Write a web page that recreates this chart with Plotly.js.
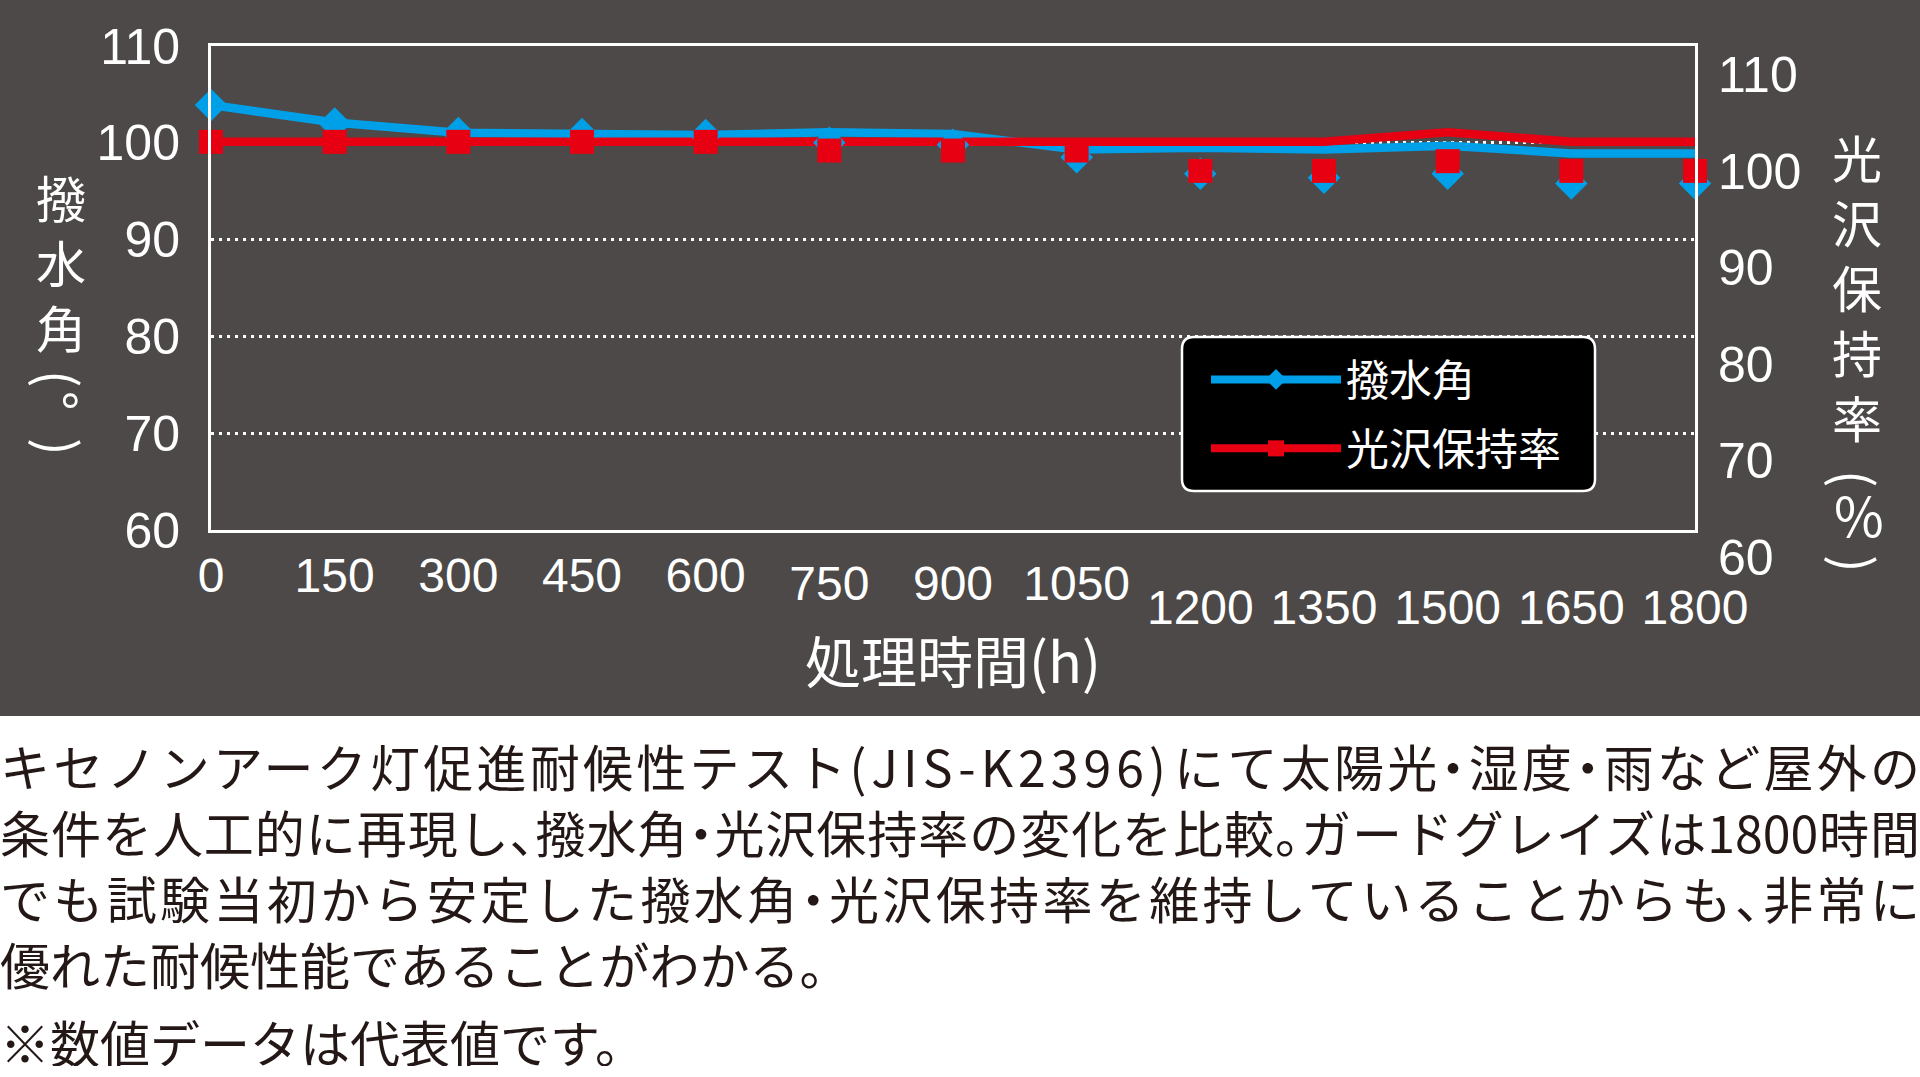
<!DOCTYPE html>
<html>
<head>
<meta charset="utf-8">
<script src="https://cdn.plot.ly/plotly-3.0.1.min.js"></script>
<style>
  body { margin:0; background:#fff; width:1920px; overflow:hidden; }
  #chart { width:1920px; height:716px; }
  #caption { font-family:'Noto Sans CJK JP', sans-serif; font-size:50px; color:#231815; padding-top:16px; }
  .ln { height:66px; line-height:66px; text-align:justify; text-align-last:justify; white-space:nowrap; }
  .ln.left { text-align:left; text-align-last:left; }
  .ln.note { margin-top:20px; height:50px; line-height:50px; }
  .p { font-feature-settings:"halt"; }
  .lat { letter-spacing:0.1em; }
</style>
</head>
<body>
<div id="chart"></div>
<div id="caption"></div>
<script>
// 処理時間 (h)
const HOURS = [0,150,300,450,600,750,900,1050,1200,1350,1500,1650,1800];
// 撥水角 (°) : line and marker positions as printed
const WATER_LINE = [103.9,102.1,101.05,100.9,100.8,101.1,100.9,99.3,99.5,99.3,99.7,98.9,98.9];
const WATER_MARK = [103.9,102.0,101.0,100.9,100.8,100.0,99.8,98.5,96.8,96.4,96.8,95.8,95.8];
// 光沢保持率 (%)
const GLOSS_LINE = [100.1,100.1,100.1,100.1,100.1,100.1,100.1,100.1,100.0,100.1,101.1,100.1,100.1];
const GLOSS_MARK = [100.1,100.1,100.1,100.1,100.1,99.2,99.2,99.2,97.1,97.1,98.1,97.1,97.1];
const Y_TICKS = [60,70,80,90,100,110];
const SERIES = ['撥水角','光沢保持率'];
const X_TITLE = '処理時間(h)';
const LEFT_TITLE = ['撥水角', '(', '°', ')'];
const RIGHT_TITLE = ['光沢保持率', '(', '%', ')'];
const CAPTION = [
  'キセノンアーク灯促進耐候性テスト(JIS-K2396)にて太陽光・湿度・雨など屋外の',
  '条件を人工的に再現し、撥水角・光沢保持率の変化を比較。ガードグレイズは1800時間',
  'でも試験当初から安定した撥水角・光沢保持率を維持していることからも、非常に',
  '優れた耐候性能であることがわかる。',
  '※数値データは代表値です。'
];

const BLUE = '#00a0e9', RED = '#e60012', BG = '#4c4948';
const NUM = 'Liberation Sans, Arial, sans-serif';
const JP = 'Noto Sans CJK JP, sans-serif';

// pixel -> paper helpers (plot area 211..1695 x 46..557)
const L = 211, R = 225, T = 46, B = 159, W = 1920, H = 716;
const PW = W - L - R, PH = H - T - B;
const px = v => (v - L) / PW;
const py = v => (H - B - v) / PH;

// the tick rows of the time axis sit at three heights, so each row is its own overlaid axis
const traces = [
  {x:HOURS, y:WATER_LINE, type:'scatter', mode:'lines', line:{color:BLUE,width:8.5}, showlegend:false, cliponaxis:false, hoverinfo:'skip'},
  {x:HOURS, y:GLOSS_LINE, type:'scatter', mode:'lines', line:{color:RED,width:8.5}, showlegend:false, cliponaxis:false, hoverinfo:'skip'},
  {x:HOURS, y:WATER_MARK, xaxis:'x2', type:'scatter', mode:'markers', name:SERIES[0], marker:{symbol:'diamond',size:25,color:BLUE}, showlegend:false, cliponaxis:false},
  {x:HOURS, y:GLOSS_MARK, xaxis:'x3', type:'scatter', mode:'markers', name:SERIES[1], marker:{symbol:'square',size:24,color:RED}, showlegend:false, cliponaxis:false},
  // legend keys (the gloss key also carries the right-hand % axis)
  {x:[null], y:[null], type:'scatter', mode:'lines+markers', name:SERIES[0], legendgroup:'a', line:{color:BLUE,width:8}, marker:{symbol:'diamond',size:16,color:BLUE}},
  {x:[null], y:[null], yaxis:'y2', type:'scatter', mode:'lines+markers', name:SERIES[1], legendgroup:'b', line:{color:RED,width:8}, marker:{symbol:'square',size:16,color:RED}}
];

function note(text, cx, cy, size, rot) {
  return {
    text, xref:'paper', yref:'paper', x:px(cx), y:py(cy), xanchor:'center', yanchor:'middle',
    showarrow:false, textangle:rot ? 90 : 0, font:{family:JP, size, color:'#fff'}
  };
}
function vtitle(parts, cx, ys, mainSize) {
  const deg = parts[2] === '°';
  return [
    note(parts[0].split('').join('<br>'), cx, ys[0], mainSize, false),
    note(parts[1], cx, ys[1], 52, true),
    note(parts[2], cx + (deg ? 0 : 2), ys[2], deg ? 52 : 54, deg),
    note(parts[3], cx, ys[3], 52, true)
  ];
}

// rounded box behind the legend
function roundBox(x0, y0, x1, y1, r) {
  const P = (x, y) => px(x) + ',' + py(y);
  return 'M' + P(x0 + r, y0) + ' L' + P(x1 - r, y0) + ' Q' + P(x1, y0) + ' ' + P(x1, y0 + r) +
    ' L' + P(x1, y1 - r) + ' Q' + P(x1, y1) + ' ' + P(x1 - r, y1) +
    ' L' + P(x0 + r, y1) + ' Q' + P(x0, y1) + ' ' + P(x0, y1 - r) +
    ' L' + P(x0, y0 + r) + ' Q' + P(x0, y0) + ' ' + P(x0 + r, y0) + ' Z';
}

const tickfont = {family:NUM, size:50, color:'#fff'};
const xtickfont = {family:NUM, size:48, color:'#fff'};
const xrow = (vals, standoff) => ({
  overlaying:'x', anchor:'y', range:[0,1800], showline:false, showgrid:false, zeroline:false,
  ticks:'', tickangle:0, tickvals:vals, ticktext:vals.map(String), tickfont:xtickfont, ticklabelstandoff:standoff
});

const layout = {
  width:W, height:H,
  margin:{l:L, r:R, t:T, b:B},
  paper_bgcolor:BG, plot_bgcolor:'rgba(0,0,0,0)',
  showlegend:true,
  xaxis:{
    range:[0,1800], anchor:'y', showline:true, mirror:true, linecolor:'#fff', linewidth:3,
    showgrid:false, zeroline:false, ticks:'', tickangle:0,
    tickvals:HOURS.slice(0,5), ticktext:HOURS.slice(0,5).map(String), tickfont:xtickfont, ticklabelstandoff:1,
    title:{text:X_TITLE, font:{family:JP, size:56, color:'#fff'}, standoff:44}
  },
  xaxis2: xrow(HOURS.slice(5,8), 21),
  xaxis3: xrow(HOURS.slice(8), 45),
  yaxis:{
    domain:[py(530), 1], range:[60,110], tickvals:Y_TICKS, ticktext:Y_TICKS.map(String),
    showline:true, mirror:true, linecolor:'#fff', linewidth:3,
    showgrid:true, gridcolor:'#fff', gridwidth:3, griddash:'3px,5px', zeroline:false,
    ticks:'', tickfont, ticklabelstandoff:18
  },
  yaxis2:{
    domain:[0, py(74.6)], range:[60,110],
    anchor:'x', side:'right', tickvals:Y_TICKS, ticktext:Y_TICKS.map(String),
    showline:false, showgrid:false, zeroline:false, ticks:'', tickfont, ticklabelstandoff:22
  },
  shapes:[
    {type:'path', xref:'paper', yref:'paper', path:roundBox(1182, 337, 1595, 491, 12),
     fillcolor:'#000', line:{color:'#fff', width:2.5}, layer:'above'}
  ],
  legend:{
    x:px(1206), y:py(345), xanchor:'left', yanchor:'top',
    bgcolor:'rgba(0,0,0,0)', borderwidth:0,
    font:{family:JP, size:43, color:'#fff'}, itemwidth:130, tracegroupgap:10
  },
  annotations:[
    ...vtitle(LEFT_TITLE, 61, [260.5,379,400,447], 50),
    ...vtitle(RIGHT_TITLE, 1857, [285.5,479,513,564], 50)
  ]
};

Plotly.newPlot('chart', traces, layout, {displayModeBar:false, staticPlot:true});

// caption: punctuation set half width like the print, latin run in line 1 tracked out
const cap = document.getElementById('caption');
CAPTION.forEach((s, i) => {
  const d = document.createElement('div');
  d.className = 'ln' + (i >= 3 ? ' left' : '') + (i === 4 ? ' note' : '');
  let html = s.replace(/([、。・])/g, (m, c, off) => (i >= 3 && off === s.length - 1) ? c : '<span class="p">' + c + '</span>');
  if (i === 0) html = html.replace(/(\([A-Za-z0-9\-]+\))/g, '<span class="lat">$1</span>');
  d.innerHTML = html;
  cap.appendChild(d);
});
</script>
</body>
</html>
